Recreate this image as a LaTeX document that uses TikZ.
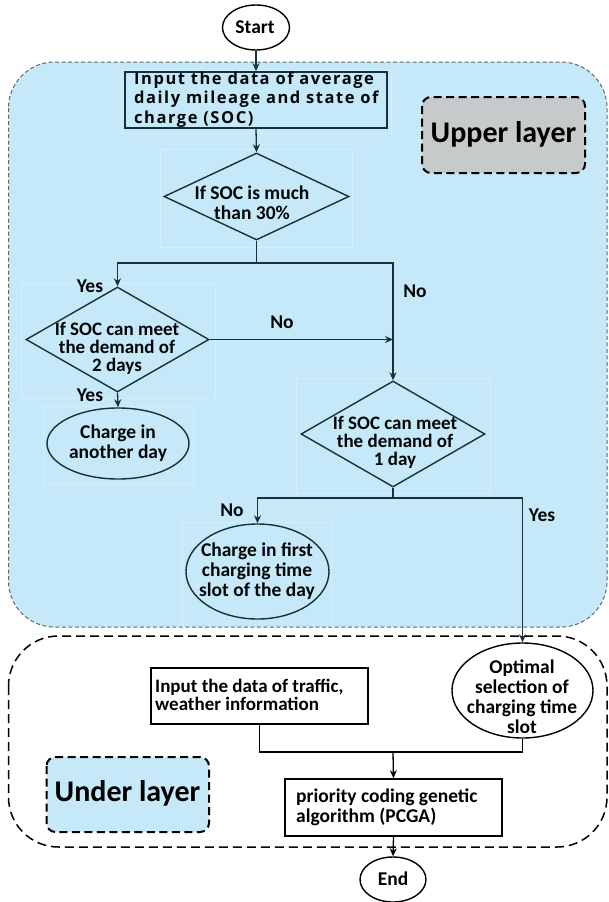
\documentclass[tikz,border=0pt]{standalone}
\usepackage{fontspec}
\setmainfont{Carlito}
\newfontfamily\inpfont[LetterSpace=9.3]{Open Sans}
\usetikzlibrary{shapes.geometric,arrows.meta}

\definecolor{layerblue}{RGB}{197,233,248}
\definecolor{faintbox}{RGB}{211,239,251}
\definecolor{layergray}{RGB}{198,202,203}
\definecolor{inkup}{RGB}{22,48,60}

\tikzset{
  flowline/.style={line width=1.3pt, draw=inkup},
  arr/.style={flowline, -{Stealth[length=8pt,width=7pt]}},
  arrlow/.style={arr, draw=black},
  boxup/.style={draw=inkup, line width=1.6pt, rectangle, inner sep=0pt},
  boxlow/.style={draw=black, line width=1.6pt, rectangle, inner sep=0pt},
  diam/.style={draw=inkup, line width=1.4pt, diamond, inner sep=0pt, shape aspect=2},
  ovalup/.style={draw=inkup, line width=1.4pt, ellipse, inner sep=0pt},
  ovallow/.style={draw=black, line width=1.4pt, ellipse, inner sep=0pt, fill=white},
  txt/.style={font=\bfseries\fontsize{19}{18}\selectfont, align=center, inner sep=0pt, text=black!90!inkup},
  txtlow/.style={font=\bfseries\fontsize{19.5}{20}\selectfont, inner sep=0pt, text=black},
  lbl/.style={font=\bfseries\fontsize{19.5}{20}\selectfont, inner sep=0pt, text=black!90!inkup},
  tag/.style={line width=2pt, dash pattern=on 8pt off 4.5pt, rounded corners=9pt},
  tagtxt/.style={font=\bfseries\fontsize{30}{30}\selectfont, inner sep=0pt, text=black},
  ghost/.style={draw=faintbox, line width=0.7pt},
}

\begin{document}
\begin{tikzpicture}[x=1pt,y=-1pt]
\useasboundingbox (0,0) rectangle (608,902);

% two layer regions
\draw[fill=layerblue, draw=black!60, line width=1pt, dash pattern=on 4pt off 2.5pt, rounded corners=46pt]
  (8.5,62) rectangle (607,627);
\draw[draw=black, line width=1.5pt, dash pattern=on 9pt off 5pt, rounded corners=50pt]
  (8.5,636) rectangle (607,847);

% faint frames behind the upper-layer shapes
\draw[ghost] (121,70) rectangle (391,133);
\draw[ghost] (160,149) rectangle (352,247);
\draw[ghost] (21,283) rectangle (215,398);
\draw[ghost] (43,406) rectangle (193,484);
\draw[ghost] (296,378) rectangle (490,493);
\draw[ghost] (182,522) -- (331,522) -- (331,627);
\draw[ghost] (182,522) -- (182,627);

% layer tags
\draw[tag, fill=layergray, draw=black] (422,97) rectangle (585,173);
\node[tagtxt] (uptxt) at (503.5,134) {Upper layer};
\draw[tag, fill=layerblue, draw=black] (46.5,757) rectangle (209,832);
\node[tagtxt] (lowtxt) at (127.5,793) {Under layer};

% start / end
\node[ovallow, minimum width=67pt, minimum height=45pt] (start) at (256,27.5) {};
\node[txtlow] (starttxt) at (255,27) {Start};
\node[ovallow, minimum width=66pt, minimum height=45pt] (end) at (393,879.5) {};
\node[txtlow] (endtxt) at (393,878.5) {End};

% upper layer flow
\node[boxup, minimum width=262pt, minimum height=56pt] (inp) at (256,100) {};
\node[anchor=west, inner sep=0pt, align=left, text=black!85!inkup,
      font=\inpfont\bfseries\fontsize{16.5}{19.5}\selectfont] (inptxt) at (134,99.5)
  {Input the data of average\\daily mileage and state of\\charge (SOC)};

\node[diam, minimum width=185pt, minimum height=87pt] (d1) at (256.5,196.5) {};
\node[txt, font=\bfseries\fontsize{19.5}{19.5}\selectfont] (d1txt) at (252,202.5) {If SOC is much\\than 30\%};

\node[diam, minimum width=183pt, minimum height=105pt] (d2) at (117.5,339.5) {};
\node[txt] (d2txt) at (117,348) {If SOC can meet\\the demand of\\2 days};

\node[ovalup, minimum width=142pt, minimum height=71pt] (e1) at (118,443.5) {};
\node[txt, font=\bfseries\fontsize{19.5}{20}\selectfont] (e1txt) at (118,443) {Charge in\\another day};

\node[diam, minimum width=184pt, minimum height=106pt] (d3) at (393,434) {};
\node[txt] (d3txt) at (395,442) {If SOC can meet\\the demand of\\1 day};

\node[ovalup, minimum width=143pt, minimum height=95pt] (e2) at (257.5,571.5) {};
\node[txt, font=\bfseries\fontsize{19.5}{20}\selectfont] (e2txt) at (257,571) {Charge in first\\charging time\\slot of the day};

% under layer flow
\node[ovallow, minimum width=141pt, minimum height=95pt] (opt) at (522.5,690.5) {};
\node[txtlow, align=center] (opttxt) at (522,697) {Optimal\\selection of\\charging time\\slot};

\node[boxlow, minimum width=217pt, minimum height=56pt] (traf) at (259.5,696) {};
\node[txtlow, anchor=west, align=left, font=\bfseries\fontsize{19}{18}\selectfont] (traftxt) at (155,694.5)
  {Input the data of traffic,\\weather information};

\node[boxlow, minimum width=217pt, minimum height=57pt] (pcga) at (393.5,807.5) {};
\node[txtlow, anchor=west, align=left] (pcgatxt) at (296,807)
  {priority coding genetic\\algorithm (PCGA)};

% junction points
\coordinate (j1) at (256.5,263);
\coordinate (j2) at (393,498);
\coordinate (j3) at (393,752);

% connectors
\draw[arr] (start.south) -- (inp.north);
\draw[arr] (inp.south) -- (d1.north);
\draw[flowline] (d1.south) -- (j1);
\draw[arr] (j1) -| (d2.north);
\draw[arr] (j1) -| (d3.north);
\draw[arr] (d2.east) -- (d2.east -| d3.north);
\draw[arr] (d2.south) -- (e1.north);
\draw[flowline] (d3.south) -- (j2);
\draw[arr] (j2) -| (e2.north);
\draw[arr] (j2) -| (opt.north);
\draw[flowline, draw=black] (traf.south) |- (j3);
\draw[flowline, draw=black] (opt.south) |- (j3);
\draw[arrlow] (j3) -- (pcga.north);
\draw[arrlow] (pcga.south) -- (end.north);

% branch labels
\node[lbl] (y1) at (90,286) {Yes};
\node[lbl] (n1) at (415,291) {No};
\node[lbl] (n2) at (282,322) {No};
\node[lbl] (y2) at (90,395) {Yes};
\node[lbl] (n3) at (232,510) {No};
\node[lbl] (y3) at (542,515) {Yes};
\end{tikzpicture}
\end{document}
